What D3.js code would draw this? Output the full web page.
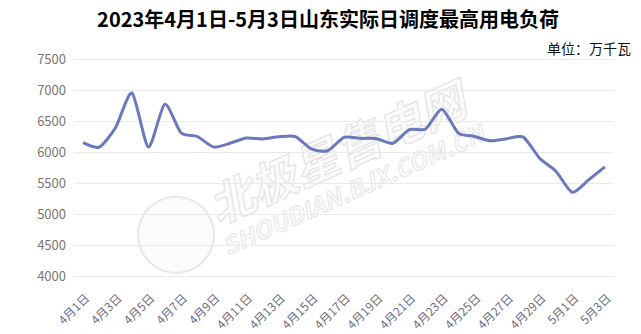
<!DOCTYPE html>
<html>
  <head>
    <meta charset="utf-8" />
    <title>山东实际日调度最高用电负荷</title>
    <script src="https://d3js.org/d3.v7.min.js" charset="utf-8"></script>
    <style>
      body { margin: 0; background: #fff; }
      svg { font-family: "Noto Sans CJK SC", "Noto Sans", sans-serif; }
    </style>
  </head>
  <body>
    <svg id="canvas" width="641" height="334"></svg>
    <script>
      // days 4/1 .. 5/3
      var days = [];
      for (var d = 1; d <= 30; d++) days.push("4月" + d + "日");
      for (var d = 1; d <= 3; d++) days.push("5月" + d + "日");

      // max load, 万千瓦
      var loads = [
        6150, 6080, 6400, 6950, 6080, 6770, 6310, 6250, 6080, 6140,
        6225, 6210, 6245, 6250, 6050, 6020, 6235, 6220, 6215, 6140,
        6360, 6370, 6690, 6310, 6250, 6180, 6215, 6240, 5900, 5690,
        5350, 5550, 5760
      ];

      var yTicks = [4000, 4500, 5000, 5500, 6000, 6500, 7000, 7500];

      var canvas = d3.select("#canvas");

      var x = d3.scalePoint().domain(days).range([75, 613]).padding(0.5);
      var y = d3.scaleLinear().domain([4000, 7500]).range([276, 59]);

      // watermark
      var wm = canvas.append("g")
        .attr("transform", "translate(330,175) rotate(-24)")
        .style("opacity", 0.9);
      wm.append("circle")
        .attr("cx", -165).attr("cy", -8).attr("r", 38)
        .attr("fill", "#fbfbfb").attr("stroke", "#e6e6e6").attr("stroke-width", 2);
      wm.append("text")
        .attr("x", 15).attr("y", 0)
        .attr("text-anchor", "middle")
        .style("font-size", "46px").style("font-weight", "bold").style("font-style", "italic")
        .attr("fill", "#fbfbfb").attr("stroke", "#e2e2e2").attr("stroke-width", 1.2)
        .text("北极星售电网");
      wm.append("text")
        .attr("x", 15).attr("y", 32)
        .attr("text-anchor", "middle")
        .style("font-size", "24px").style("font-weight", "bold").style("font-style", "italic")
        .attr("fill", "#fbfbfb").attr("stroke", "#e4e4e4").attr("stroke-width", 1)
        .text("SHOUDIAN.BJX.COM.CN");

      // gridlines + y labels
      canvas.append("g")
        .selectAll("line")
        .data(yTicks)
        .enter()
        .append("line")
        .attr("x1", 75).attr("x2", 613)
        .attr("y1", function (v) { return y(v) + 0.5; })
        .attr("y2", function (v) { return y(v) + 0.5; })
        .attr("stroke", "#eaeaea");

      canvas.append("g")
        .selectAll("text")
        .data(yTicks)
        .enter()
        .append("text")
        .attr("x", 66)
        .attr("y", function (v) { return y(v); })
        .attr("dy", "0.35em")
        .attr("text-anchor", "end")
        .attr("fill", "#7b7474")
        .style("font-size", "13px")
        .text(function (v) { return v; });

      // x labels, every other day
      canvas.append("g")
        .selectAll("text")
        .data(days.filter(function (d, i) { return i % 2 === 0; }))
        .enter()
        .append("text")
        .attr("transform", function (d) {
          return "translate(" + (x(d) + 4) + ",296) rotate(-45)";
        })
        .attr("text-anchor", "end")
        .attr("dy", "0.35em")
        .attr("fill", "#707080")
        .style("font-size", "12px")
        .text(function (d) { return d; });

      // line
      var line = d3.line()
        .x(function (v, i) { return x(days[i]); })
        .y(function (v) { return y(v); })
        .curve(d3.curveCardinal.tension(0.3));

      canvas.append("path")
        .datum(loads)
        .attr("d", line)
        .attr("fill", "none")
        .attr("stroke", "#6a79bd")
        .attr("stroke-width", 3)
        .attr("stroke-linejoin", "round");

      // title + unit
      canvas.append("text")
        .attr("x", 328).attr("y", 27)
        .attr("text-anchor", "middle")
        .style("font-size", "20px").style("font-weight", "bold")
        .attr("fill", "#000")
        .text("2023年4月1日-5月3日山东实际日调度最高用电负荷");

      canvas.append("text")
        .attr("x", 631).attr("y", 54)
        .attr("text-anchor", "end")
        .style("font-size", "14px")
        .attr("fill", "#111")
        .text("单位：万千瓦");
    </script>
  </body>
</html>
